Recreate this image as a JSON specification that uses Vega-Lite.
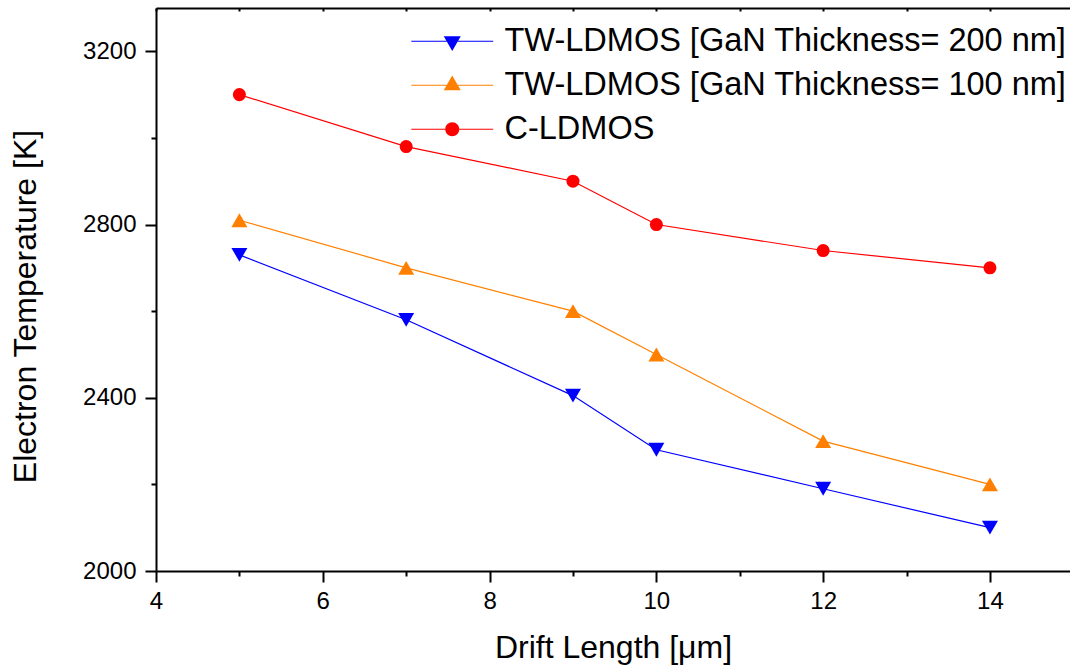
{
  "$schema": "https://vega.github.io/schema/vega-lite/v6.json",
  "autosize": {"type": "none"},
  "padding": {"left": 156, "top": 8, "right": 0, "bottom": 97},
  "width": 914,
  "height": 563,
  "background": "white",
  "config": {
    "view": {"stroke": null},
    "font": "Liberation Sans",
    "axis": {"domainColor": "black", "domainWidth": 2, "tickColor": "black", "tickWidth": 2, "labelColor": "black", "titleColor": "black", "labelFont": "Liberation Sans", "titleFont": "Liberation Sans", "labelFontSize": 24, "titleFontSize": 32, "titleFontWeight": "normal", "grid": false, "labelOverlap": false, "labelBound": false, "labelFlush": false}
  },
  "data": {
    "values": [
      {"series": "TW-LDMOS [GaN Thickness= 200 nm]", "x": 5, "y": 2730},
      {"series": "TW-LDMOS [GaN Thickness= 200 nm]", "x": 7, "y": 2580},
      {"series": "TW-LDMOS [GaN Thickness= 200 nm]", "x": 9, "y": 2405},
      {"series": "TW-LDMOS [GaN Thickness= 200 nm]", "x": 10, "y": 2280},
      {"series": "TW-LDMOS [GaN Thickness= 200 nm]", "x": 12, "y": 2190},
      {"series": "TW-LDMOS [GaN Thickness= 200 nm]", "x": 14, "y": 2100},
      {"series": "TW-LDMOS [GaN Thickness= 100 nm]", "x": 5, "y": 2810},
      {"series": "TW-LDMOS [GaN Thickness= 100 nm]", "x": 7, "y": 2700},
      {"series": "TW-LDMOS [GaN Thickness= 100 nm]", "x": 9, "y": 2600},
      {"series": "TW-LDMOS [GaN Thickness= 100 nm]", "x": 10, "y": 2500},
      {"series": "TW-LDMOS [GaN Thickness= 100 nm]", "x": 12, "y": 2300},
      {"series": "TW-LDMOS [GaN Thickness= 100 nm]", "x": 14, "y": 2200},
      {"series": "C-LDMOS", "x": 5, "y": 3100},
      {"series": "C-LDMOS", "x": 7, "y": 2980},
      {"series": "C-LDMOS", "x": 9, "y": 2900},
      {"series": "C-LDMOS", "x": 10, "y": 2800},
      {"series": "C-LDMOS", "x": 12, "y": 2740},
      {"series": "C-LDMOS", "x": 14, "y": 2700}
    ]
  },
  "encoding": {
    "x": {"field": "x", "type": "quantitative", "scale": {"domain": [4, 14.96], "nice": false, "zero": false}},
    "y": {"field": "y", "type": "quantitative", "scale": {"domain": [2000, 3300], "nice": false, "zero": false}},
    "color": {
      "field": "series", "type": "nominal",
      "scale": {"domain": ["TW-LDMOS [GaN Thickness= 200 nm]", "TW-LDMOS [GaN Thickness= 100 nm]", "C-LDMOS"], "range": ["#0000ff", "#ff8000", "#ff0000"]},
      "legend": {
        "title": null, "orient": "none", "legendX": 280, "legendY": 17, "padding": 0,
        "symbolSize": 900, "labelOffset": 36, "rowPadding": 11,
        "labelFont": "Liberation Sans", "labelFontSize": 32.5, "labelColor": "black", "labelLimit": 1000,
        "encode": {"symbols": {"update": {
          "shape": {"signal": "datum.value === 'C-LDMOS' ? 'M-2.73,-0.04H-0.46V0.04H-2.73ZM0.46,-0.04H2.73V0.04H0.46ZM-0.467,0A0.467,0.467,0,1,0,0.467,0A0.467,0.467,0,1,0,-0.467,0Z' : datum.value === 'TW-LDMOS [GaN Thickness= 100 nm]' ? 'M-2.73,-0.04H-0.38V0.04H-2.73ZM0.38,-0.04H2.73V0.04H0.38ZM0,-0.654L0.567,0.327L-0.567,0.327Z' : 'M-2.73,-0.04H-0.38V0.04H-2.73ZM0.38,-0.04H2.73V0.04H0.38ZM-0.567,-0.327L0.567,-0.327L0,0.654Z'"},
          "fill": {"scale": "color", "field": "value"},
          "stroke": {"value": null},
          "strokeWidth": {"value": 0},
          "opacity": {"value": 1}
        }}}
      }
    }
  },
  "layer": [
    {
      "mark": {"type": "line", "strokeWidth": 1.2},
      "encoding": {
        "x": {"field": "x", "type": "quantitative", "axis": {"orient": "bottom", "title": "Drift Length [μm]", "values": [4,5,6,7,8,9,10,11,12,13,14], "tickSize": {"condition": {"test": "datum.value % 2 === 0", "value": 11}, "value": 5}, "labelExpr": "datum.value % 2 === 0 ? datum.label : ''", "labelPadding": 7, "titlePadding": 19}},
        "y": {"field": "y", "type": "quantitative", "axis": {"orient": "left", "title": "Electron Temperature [K]", "titleY": 298, "format": "d", "values": [2000,2200,2400,2600,2800,3000,3200], "tickSize": {"condition": {"test": "datum.value % 400 === 0", "value": 11}, "value": 5}, "labelExpr": "datum.value % 400 === 0 ? datum.label : ''", "labelPadding": 9, "titlePadding": 40}}
      }
    },
    {
      "transform": [{"filter": "datum.series === 'TW-LDMOS [GaN Thickness= 200 nm]'"}],
      "mark": {"type": "point", "filled": true, "opacity": 1, "shape": "triangle-down", "size": 256},
      "encoding": {
        "x": {"field": "x", "type": "quantitative", "axis": {"orient": "top", "title": null, "labels": false, "values": [4,5,6,7,8,9,10,11,12,13,14], "tickSize": -3}}
      }
    },
    {
      "transform": [{"filter": "datum.series === 'TW-LDMOS [GaN Thickness= 100 nm]'"}],
      "mark": {"type": "point", "filled": true, "opacity": 1, "shape": "triangle-up", "size": 256},
      "encoding": {
        "x": {"field": "x", "type": "quantitative", "axis": null}
      }
    },
    {
      "transform": [{"filter": "datum.series === 'C-LDMOS'"}],
      "mark": {"type": "point", "filled": true, "opacity": 1, "shape": "circle", "size": 170},
      "encoding": {
        "x": {"field": "x", "type": "quantitative", "axis": null}
      }
    }
  ],
  "resolve": {"axis": {"x": "independent"}}
}
